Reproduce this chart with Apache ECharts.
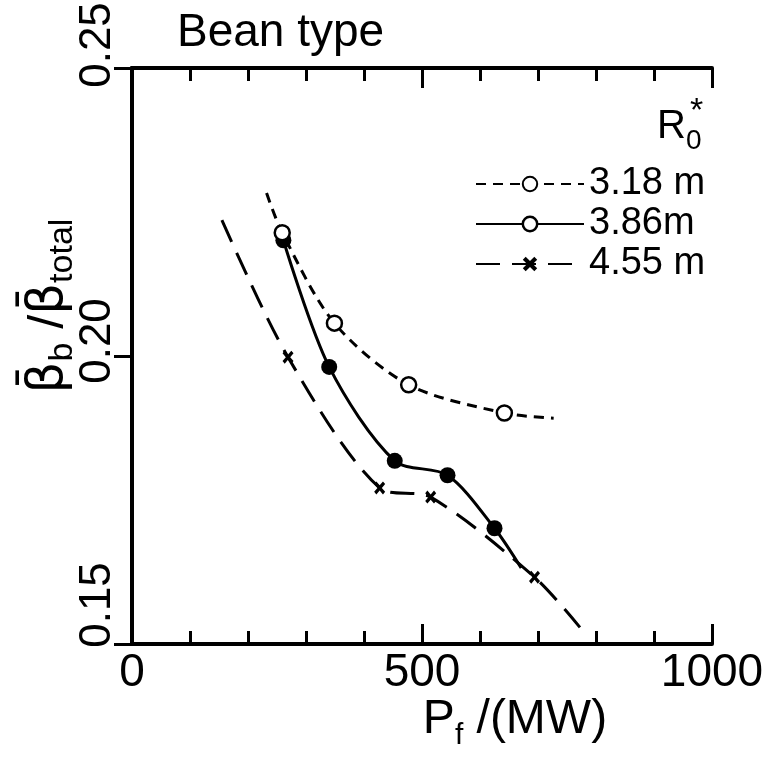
<!DOCTYPE html>
<html>
<head>
<meta charset="utf-8">
<script src="https://cdn.jsdelivr.net/npm/echarts@6/dist/echarts.min.js"></script>
<style>html,body{margin:0;padding:0;background:#fff}#chart{width:762px;height:761px}</style>
</head>
<body>
<div id="chart"></div>
<script>
var seriesNames = ['3.18 m', '3.86m', '4.55 m'];
// P_f (MW) and beta ratio; mark = 1 -> draw a marker there
var pf318 = [232, 259, 349, 477, 642, 727];
var beta318 = [0.2283, 0.2214, 0.2057, 0.1950, 0.1901, 0.1892];
var mark318 = [0, 1, 1, 1, 1, 0];
var pf386 = [261, 340, 453, 544, 625, 671];
var beta386 = [0.2201, 0.1981, 0.1818, 0.1793, 0.1701, 0.1632];
var mark386 = [1, 1, 1, 1, 1, 0];
var pf455 = [155, 269, 427, 515, 694, 773];
var beta455 = [0.2236, 0.1998, 0.1771, 0.1755, 0.1616, 0.1528];
var mark455 = [0, 1, 1, 1, 1, 0];
var xTickLabels = [0, 500, 1000];
var yTickLabels = ['0.15', '0.20', '0.25'];

var FONT = 'Liberation Sans';
var xMark = 'path://M0,2L2,0L5,3L8,0L10,2L7,5L10,8L8,10L5,7L2,10L0,8L3,5Z';

function pts(xs, ys, marks) {
  return xs.map(function (x, i) {
    var d = { value: [x, ys[i]] };
    if (!marks[i]) d.symbol = 'none';
    return d;
  });
}

var dom = document.getElementById('chart');
var myChart = echarts.init(dom);

var tickStyle = { color: '#000', width: 3 };

option = {
  animation: false,
  backgroundColor: '#fff',
  textStyle: { fontFamily: FONT, color: '#000' },
  title: [
    {
      text: 'Bean type', left: 172, top: 5,
      textStyle: { fontFamily: FONT, fontSize: 46, fontWeight: 'normal', color: '#000' }
    },
    {
      text: '{r|R}{s|0}', left: 652, top: 102,
      textStyle: {
        fontFamily: FONT, color: '#000', fontWeight: 'normal',
        rich: {
          r: { fontSize: 40, fontWeight: 'normal', padding: [0, 0, 14, 0] },
          s: { fontSize: 28, fontWeight: 'normal', padding: [14, 0, 0, 0] }
        }
      }
    },
    {
      text: '*', left: 685, top: 90,
      textStyle: { fontFamily: FONT, fontSize: 34, fontWeight: 'normal', color: '#000' }
    }
  ],
  legend: {
    orient: 'vertical',
    left: 470,
    top: 160,
    itemWidth: 108,
    itemHeight: 18,
    itemGap: 2,
    align: 'left',
    textStyle: { fontFamily: FONT, fontSize: 38, lineHeight: 38, color: '#000' },
    data: [
      { name: seriesNames[0] },
      { name: seriesNames[1], itemStyle: { color: '#fff', borderColor: '#000', borderWidth: 2.5 } },
      { name: seriesNames[2] }
    ]
  },
  grid: {
    left: 132, right: 50, top: 68, bottom: 117,
    outerBoundsMode: 'none'
  },
  xAxis: [
    {
      type: 'value', min: 0, max: 1000, interval: 500,
      name: '{p|P}{s|f}{p| /(MW)}',
      nameLocation: 'middle', nameGap: 52, nameMoveOverlap: false,
      nameTextStyle: {
        fontFamily: FONT, color: '#000',
        rich: {
          p: { fontSize: 48, padding: [0, 0, 16, 0] },
          s: { fontSize: 30, padding: [16, 0, 0, 0] }
        },
        padding: [0, 0, 0, 186]
      },
      axisLine: { lineStyle: { color: '#000', width: 4 } },
      axisTick: { inside: true, length: 20, lineStyle: tickStyle },
      minorTick: { show: true, splitNumber: 5, length: 13, lineStyle: tickStyle },
      splitLine: { show: false },
      axisLabel: {
        fontFamily: FONT, fontSize: 46, color: '#000', margin: 6,
        formatter: function (v) { return xTickLabels.indexOf(v) >= 0 ? String(v) : ''; }
      }
    },
    {
      type: 'value', position: 'top', min: 0, max: 1000, interval: 500,
      axisLine: { lineStyle: { color: '#000', width: 4 } },
      axisTick: { inside: true, length: 20, lineStyle: tickStyle },
      minorTick: { show: true, splitNumber: 5, length: 13, lineStyle: tickStyle },
      splitLine: { show: false },
      axisLabel: { show: false }
    }
  ],
  yAxis: [
    {
      type: 'value', min: 0.15, max: 0.25, interval: 0.05,
      name: '{a|β̄}{b|b}{c| /}{a|β̄}{b|total}',
      nameLocation: 'middle', nameRotate: 90, nameGap: 44, nameMoveOverlap: false,
      nameTextStyle: {
        fontFamily: FONT, color: '#000',
        rich: {
          a: { fontFamily: 'DejaVu Sans', fontSize: 50, padding: [0, 0, 14, 0] },
          c: { fontSize: 50, padding: [0, 0, 14, 0] },
          b: { fontSize: 34, padding: [14, 0, 0, 0] }
        },
        padding: [0, 0, 0, 100]
      },
      axisLine: { lineStyle: { color: '#000', width: 4 } },
      axisTick: { show: false },
      splitLine: { show: false },
      axisLabel: {
        rotate: 90, fontFamily: FONT, fontSize: 44, color: '#000', margin: 12,
        formatter: function (v) {
          var s = v.toFixed(2);
          if (yTickLabels.indexOf(s) < 0) return '';
          if (s === '0.15') return '{lo|' + s + '}';
          if (s === '0.25') return '{hi|' + s + '}';
          return '{md|' + s + '}';
        },
        rich: {
          lo: { fontSize: 44, padding: [0, 0, 0, 78] },
          md: { fontSize: 44, padding: [0, 0, 0, 30] },
          hi: { fontSize: 44, padding: [0, 0, 0, 46] }
        }
      }
    },
    {
      type: 'value', position: 'right', min: 0.15, max: 0.25, interval: 0.05,
      axisLine: { lineStyle: { color: '#000', width: 4 } },
      axisTick: { inside: true, length: 18, lineStyle: tickStyle },
      splitLine: { show: false },
      axisLabel: { show: false }
    }
  ],
  series: [
    {
      name: seriesNames[2],
      type: 'line',
      smooth: 0.3,
      data: pts(pf455, beta455, mark455),
      symbol: xMark,
      symbolSize: [11, 13],
      itemStyle: { color: '#000' },
      lineStyle: { color: '#000', width: 3, type: [24, 12] }
    },
    {
      name: seriesNames[1],
      type: 'line',
      smooth: 0.3,
      data: pts(pf386, beta386, mark386),
      symbol: 'circle',
      symbolSize: 16,
      itemStyle: { color: '#000' },
      lineStyle: { color: '#000', width: 3 }
    },
    {
      name: seriesNames[0],
      type: 'line',
      smooth: 0.3,
      data: pts(pf318, beta318, mark318),
      symbol: 'circle',
      symbolSize: 15,
      itemStyle: { color: '#fff', borderColor: '#000', borderWidth: 2.5 },
      lineStyle: { color: '#000', width: 3, type: [10, 7] }
    }
  ]
};

if (option && typeof option === 'object') {
  myChart.setOption(option, true);
}
</script>
</body>
</html>
